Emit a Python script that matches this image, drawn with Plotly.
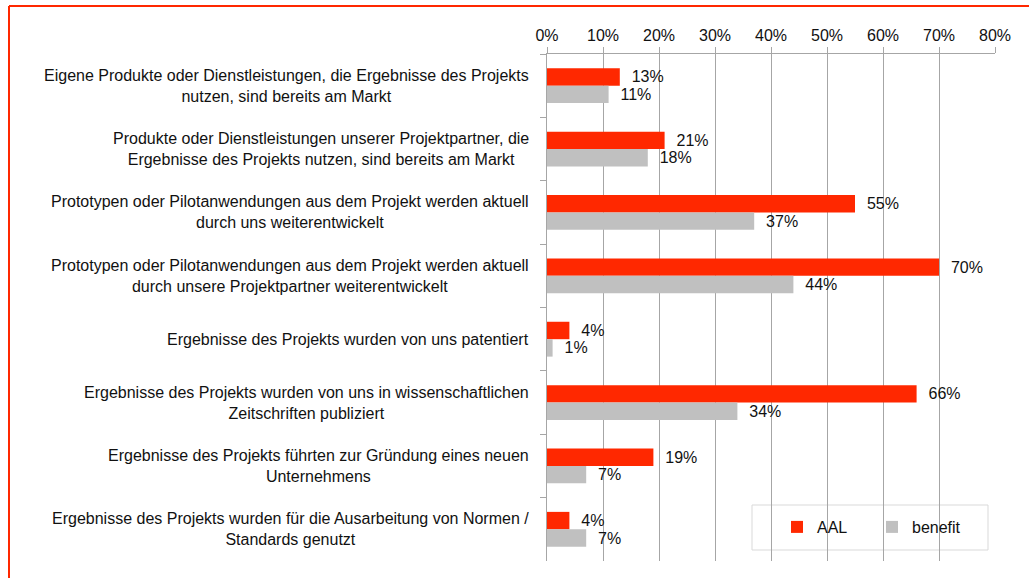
import plotly.graph_objects as go

categories = [
    "Eigene Produkte oder Dienstleistungen, die Ergebnisse des Projekts<br>nutzen, sind bereits am Markt",
    "Produkte oder Dienstleistungen unserer Projektpartner, die<br>Ergebnisse des Projekts nutzen, sind bereits am Markt",
    "Prototypen oder Pilotanwendungen aus dem Projekt werden aktuell<br>durch uns weiterentwickelt",
    "Prototypen oder Pilotanwendungen aus dem Projekt werden aktuell<br>durch unsere Projektpartner weiterentwickelt",
    "Ergebnisse des Projekts wurden von uns patentiert",
    "Ergebnisse des Projekts wurden von uns in wissenschaftlichen<br>Zeitschriften publiziert",
    "Ergebnisse des Projekts führten zur Gründung eines neuen<br>Unternehmens",
    "Ergebnisse des Projekts wurden für die Ausarbeitung von Normen /<br>Standards genutzt",
]
aal = [13, 21, 55, 70, 4, 66, 19, 4]
benefit = [11, 18, 37, 44, 1, 34, 7, 7]
tick_vals = [0, 10, 20, 30, 40, 50, 60, 70, 80]
tick_text = ["0%", "10%", "20%", "30%", "40%", "50%", "60%", "70%", "80%"]

W, H = 1029, 578
L, R, T, B = 547, 34, 54, 17
pw, ph = W - L - R, H - T - B

def px_x(p):
    return (p - L) / pw

def px_y(p):
    return (H - B - p) / ph

FONT = "Liberation Sans, Arial, sans-serif"
FS = 16
TXT = "#111111"

fig = go.Figure()
fig.add_trace(go.Bar(
    name="AAL", y=categories, x=aal, orientation="h",
    marker=dict(color="#FF2800", line=dict(width=0)),
    text=[f"\u00a0\u00a0{v}%" for v in aal], textposition="outside",
    textfont=dict(size=FS, color=TXT, family=FONT),
    cliponaxis=False, constraintext="none", hoverinfo="skip",
))
fig.add_trace(go.Bar(
    name="benefit", y=categories, x=benefit, orientation="h",
    marker=dict(color="#C0C0C0", line=dict(width=0)),
    text=[f"\u00a0\u00a0{v}%" for v in benefit], textposition="outside",
    textfont=dict(size=FS, color=TXT, family=FONT),
    cliponaxis=False, constraintext="none", hoverinfo="skip",
))

annotations = []
for c in categories:
    annotations.append(dict(
        x=0, xref="paper", y=c, yref="y", xanchor="right", yanchor="middle",
        xshift=-16, text=c, showarrow=False, align="center",
        font=dict(size=FS, color=TXT, family=FONT),
    ))

shapes = [
    dict(type="line", xref="paper", yref="paper",
         x0=px_x(9), x1=px_x(9), y0=px_y(600), y1=px_y(6),
         line=dict(color="#FF2800", width=2)),
    dict(type="line", xref="paper", yref="paper",
         x0=px_x(9), x1=px_x(1040), y0=px_y(6), y1=px_y(6),
         line=dict(color="#FF2800", width=2)),
    dict(type="rect", xref="paper", yref="paper",
         x0=px_x(752), x1=px_x(988), y0=px_y(505), y1=px_y(550),
         line=dict(color="#D9D9D9", width=1), fillcolor="white", layer="below"),
]

fig.update_layout(
    width=W, height=H,
    margin=dict(l=L, r=R, t=T, b=B, pad=0, autoexpand=False),
    paper_bgcolor="white", plot_bgcolor="rgba(0,0,0,0)",
    barmode="group", bargap=0.45, bargroupgap=0,
    font=dict(family=FONT, size=FS, color=TXT),
    xaxis=dict(
        side="top", range=[0, 80], tickvals=tick_vals, ticktext=tick_text,
        showgrid=True, gridcolor="#A6A6A6", gridwidth=1,
        showline=True, linecolor="#A6A6A6", linewidth=1,
        ticks="outside", ticklen=6, tickcolor="#A6A6A6",
        zeroline=False, tickfont=dict(size=FS, color=TXT),
        fixedrange=True,
    ),
    yaxis=dict(
        autorange="reversed", showticklabels=False,
        showline=True, linecolor="#A6A6A6", linewidth=1,
        ticks="outside", ticklen=6, tickcolor="#A6A6A6", tickson="boundaries",
        showgrid=False, fixedrange=True,
    ),
    legend=dict(
        orientation="h", x=px_x(777), y=px_y(510), xanchor="left", yanchor="top",
        bgcolor="rgba(0,0,0,0)", borderwidth=0,
        font=dict(size=FS, color=TXT), entrywidth=50, itemwidth=30,
    ),
    annotations=annotations,
    shapes=shapes,
    showlegend=True,
    hovermode=False,
)

fig.write_html(
    "out.html",
    config={"displayModeBar": False},
    post_script="document.body.style.margin='0';document.body.style.overflow='hidden';",
)
